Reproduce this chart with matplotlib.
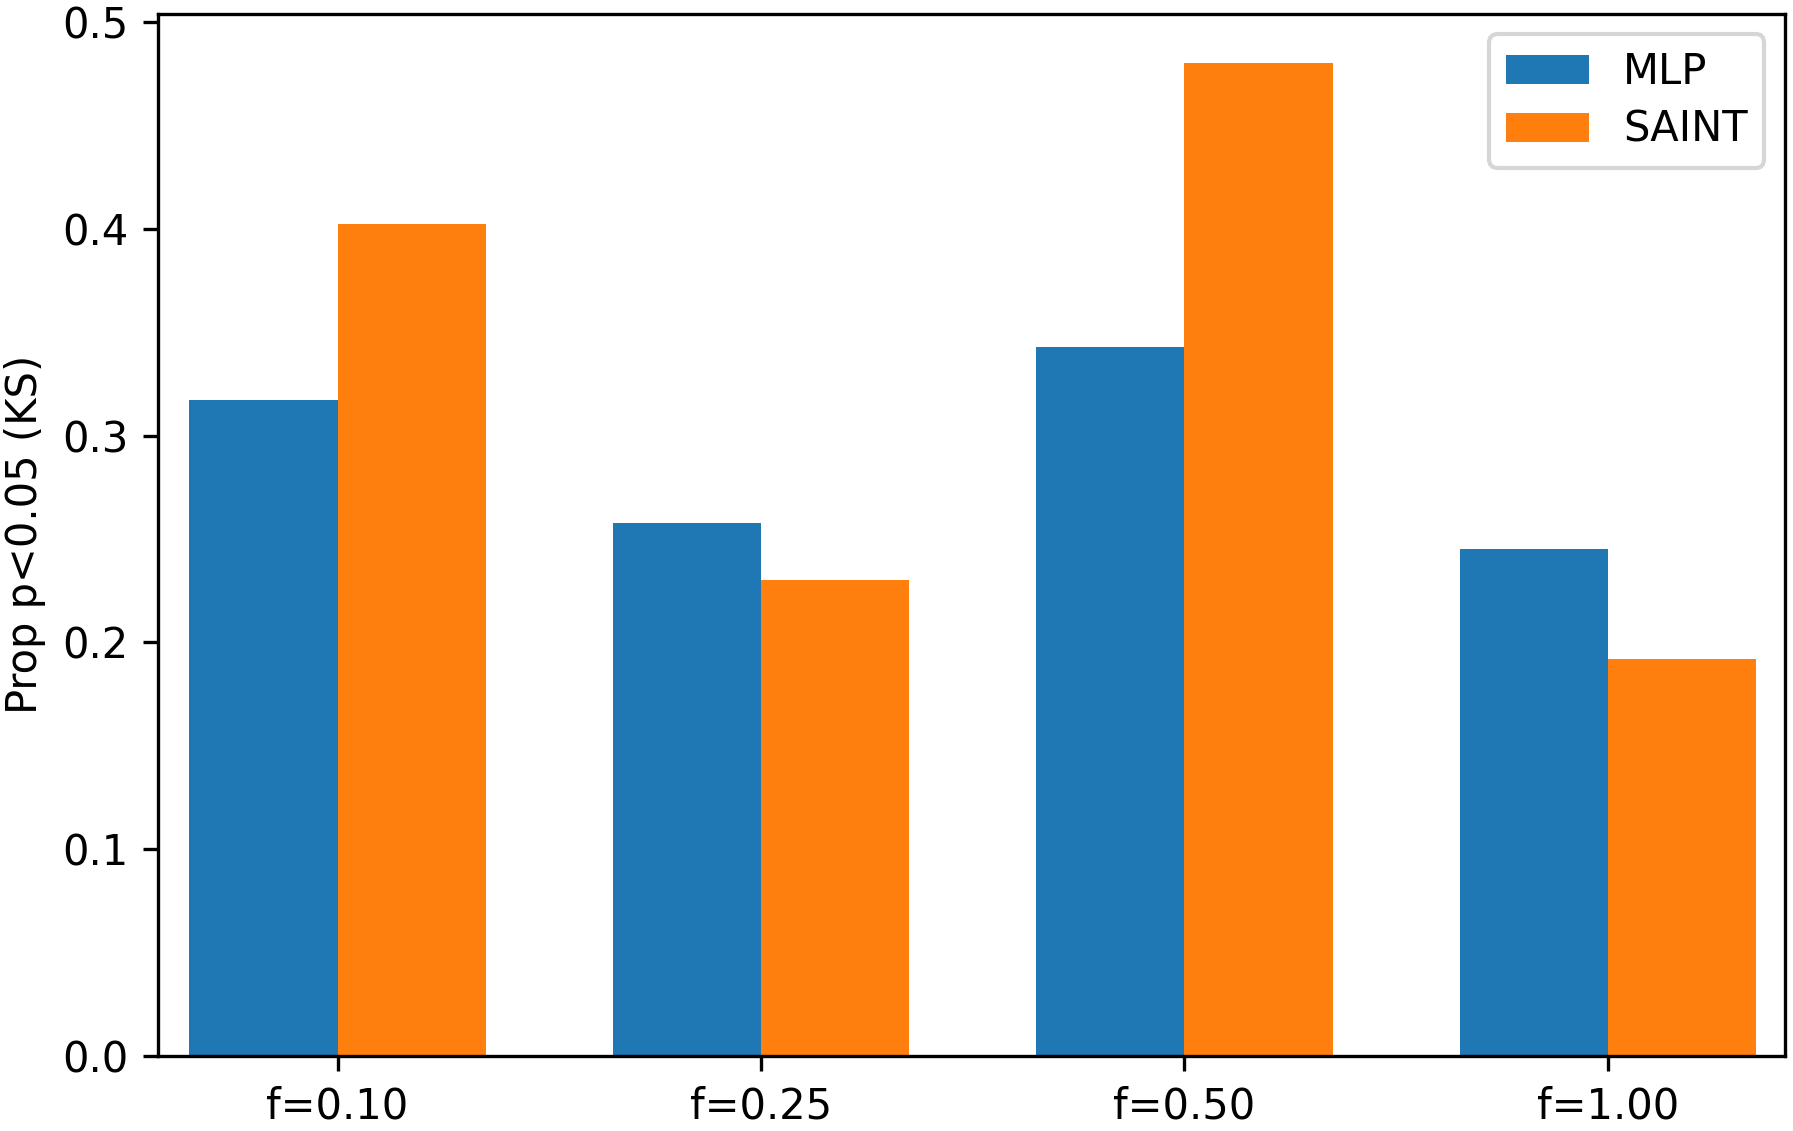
import matplotlib
matplotlib.use("Agg")
import matplotlib.pyplot as plt
import numpy as np

fracs = ["f=0.10", "f=0.25", "f=0.50", "f=1.00"]
mlp = [0.317, 0.2575, 0.343, 0.245]
saint = [0.4025, 0.230, 0.480, 0.192]

x = np.arange(len(fracs))
width = 0.35

fig, ax = plt.subplots(figsize=(1793 / 300, 1131 / 300), dpi=300)
ax.bar(x - width / 2, mlp, width, label="MLP")
ax.bar(x + width / 2, saint, width, label="SAINT")

ax.set_xticks(x)
ax.set_xticklabels(fracs)
ax.set_ylabel("Prop p<0.05 (KS)")
ax.set_xlim(-0.424, 3.418)
ax.legend(loc="upper right", labelspacing=0.38)

fig.subplots_adjust(left=0.0881, right=0.9955, top=0.988, bottom=0.0663)
fig.savefig("out.png", dpi=300)
